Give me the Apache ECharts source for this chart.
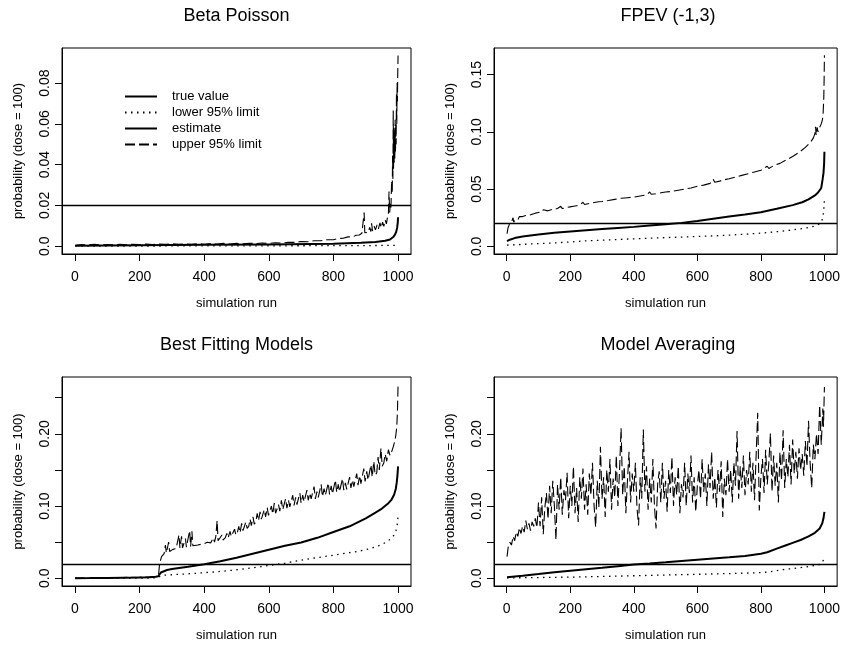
<!DOCTYPE html>
<html><head><meta charset="utf-8">
<script src="https://cdn.jsdelivr.net/npm/echarts@6/dist/echarts.min.js"></script>
<style>html,body{margin:0;padding:0;background:#fff}#c{width:843px;height:648px}</style>
</head><body><div id="c"></div>
<script>
const panelTitles = ['Beta Poisson', 'FPEV (-1,3)', 'Best Fitting Models', 'Model Averaging'];
const seriesNames = ['true value', 'lower 95% limit', 'estimate', 'upper 95% limit'];
const trueValue = 0.02;
const xTicks = [0, 200, 400, 600, 800, 1000];
const bpYTicks = [0, 0.02, 0.04, 0.06, 0.08];
const bpYLabels = ['0.0', '0.02', '0.04', '0.06', '0.08'];
const fpYTicks = [0, 0.05, 0.10, 0.15];
const fpYLabels = ['0.0', '0.05', '0.10', '0.15'];
const bigYTicks = [0, 0.05, 0.10, 0.15, 0.20, 0.25];
const bigYLabelTicks = [0, 0.10, 0.20];
const bigYLabels = ['0.0', '0.10', '0.20'];

// Beta Poisson: [simulation run, probability]
const bpLower = [[1,0.0001],[200,0.0001],[400,0.0002],[600,0.0002],[800,0.0003],[900,0.0003],[950,0.0004],[980,0.0004],[995,0.0005]];
const bpEstimate = [[1,0.0003],[200,0.0005],[400,0.0007],[600,0.0009],[800,0.0012],[885,0.0017],[930,0.0021],[960,0.0027],[975,0.0033],[985,0.0045],[990,0.0056],[994,0.007],[997,0.009],[999,0.0115],[1000,0.0142]];
const bpUpper = [[1,0.0005],[20,0.0008],[40,0.0006],[60,0.0009],[80,0.0006],[100,0.0008],[120,0.0007],[140,0.0010],[160,0.0007],[180,0.0010],[200,0.0008],[220,0.0011],[240,0.0008],[260,0.0011],[280,0.0009],[300,0.0012],[320,0.0009],[340,0.0012],[360,0.0010],[380,0.0013],[400,0.0010],[420,0.0013],[440,0.0011],[460,0.0014],[480,0.0011],[500,0.0014],[520,0.0012],[540,0.0015],[560,0.0013],[580,0.0016],[600,0.0014],[620,0.0017],[640,0.0016],[660,0.0019],[680,0.0019],[700,0.0023],[720,0.0022],[740,0.0027],[760,0.0027],[780,0.0032],[800,0.0032],[815,0.0038],[830,0.0039],[845,0.0046],[860,0.0046],[870,0.0054],[880,0.0055],[888,0.0064],[893,0.0062],[895,0.0165],[897,0.0066],[903,0.0075],[908,0.0068],[912,0.0093],[916,0.0072],[918,0.0113],[921,0.0075],[926,0.0098],[930,0.008],[935,0.0105],[939,0.0085],[944,0.0115],[948,0.009],[952,0.0118],[956,0.0098],[960,0.0128],[964,0.011],[967,0.014],[970,0.0155],[972,0.0268],[974,0.0165],[976,0.021],[978,0.019],[980,0.032],[982,0.026],[983,0.0445],[984,0.033],[985,0.0665],[986,0.038],[987,0.058],[988,0.041],[989,0.056],[990,0.043],[991,0.062],[992,0.046],[993,0.06],[994,0.05],[995,0.075],[996,0.06],[997,0.08],[998,0.071],[999,0.085],[1000,0.0935]];

// FPEV (-1,3)
const fpLower = [[1,0.0011],[50,0.0017],[100,0.0024],[150,0.003],[200,0.0038],[250,0.0048],[300,0.0054],[350,0.006],[400,0.0066],[450,0.0071],[500,0.0076],[550,0.0081],[600,0.0086],[650,0.0091],[700,0.0098],[750,0.0106],[800,0.0115],[850,0.0128],[900,0.0143],[950,0.0164],[970,0.0178],[982,0.0192],[990,0.021],[995,0.025],[998,0.032],[1000,0.0405]];
const fpEstimate = [[1,0.0045],[10,0.0058],[25,0.0072],[50,0.0085],[100,0.0103],[150,0.0118],[200,0.013],[250,0.0141],[300,0.0152],[350,0.0161],[400,0.017],[450,0.0181],[500,0.0192],[550,0.0205],[600,0.0222],[650,0.0242],[700,0.026],[750,0.0278],[800,0.0298],[850,0.0328],[900,0.036],[930,0.0385],[950,0.041],[970,0.0445],[980,0.047],[990,0.051],[994,0.058],[997,0.064],[999,0.072],[1000,0.0827]];
const fpUpper = [[1,0.011],[4,0.016],[8,0.019],[12,0.02],[16,0.022],[20,0.025],[22,0.021],[26,0.023],[30,0.024],[35,0.023],[40,0.026],[45,0.025],[50,0.026],[55,0.025],[60,0.027],[70,0.027],[80,0.028],[90,0.029],[100,0.0295],[110,0.03],[115,0.032],[120,0.0305],[130,0.031],[140,0.032],[150,0.0325],[160,0.033],[170,0.035],[175,0.033],[180,0.0335],[190,0.034],[200,0.0345],[210,0.035],[220,0.0355],[230,0.036],[240,0.0385],[245,0.0365],[250,0.037],[260,0.0375],[270,0.038],[280,0.0385],[290,0.039],[300,0.0392],[320,0.04],[340,0.041],[350,0.0415],[360,0.042],[380,0.0425],[400,0.043],[420,0.044],[440,0.045],[450,0.0475],[455,0.0455],[470,0.046],[490,0.047],[500,0.0475],[520,0.048],[540,0.049],[560,0.05],[580,0.051],[600,0.0525],[620,0.0535],[640,0.055],[650,0.0585],[655,0.056],[670,0.057],[690,0.0585],[700,0.059],[720,0.0605],[740,0.062],[760,0.0635],[780,0.065],[800,0.0665],[820,0.07],[825,0.068],[840,0.0705],[860,0.0725],[880,0.0755],[900,0.0785],[920,0.082],[940,0.0865],[955,0.0905],[965,0.0945],[970,0.0985],[972,0.1045],[974,0.097],[977,0.104],[980,0.1],[985,0.104],[990,0.107],[994,0.111],[996,0.117],[998,0.13],[999,0.145],[1000,0.167]];

// Best Fitting Models
const bfLower = [[1,0],[100,0.0001],[200,0.0002],[255,0.0005],[262,0.0025],[270,0.0042],[290,0.0045],[310,0.0052],[330,0.0055],[350,0.0062],[375,0.0068],[400,0.0078],[425,0.0085],[450,0.0095],[475,0.0105],[500,0.0118],[525,0.013],[550,0.0145],[575,0.016],[600,0.0178],[625,0.0192],[650,0.021],[675,0.023],[700,0.025],[725,0.027],[750,0.0285],[775,0.0302],[800,0.032],[825,0.0338],[850,0.0355],[875,0.0372],[900,0.0395],[920,0.042],[940,0.045],[955,0.048],[970,0.052],[980,0.056],[988,0.06],[993,0.065],[997,0.073],[1000,0.086]];
const bfEstimate = [[1,0.0002],[50,0.0003],[100,0.0005],[150,0.0008],[200,0.0011],[230,0.0015],[250,0.002],[258,0.0028],[262,0.005],[266,0.008],[272,0.0100],[285,0.0115],[300,0.0127],[350,0.016],[400,0.0195],[450,0.0235],[500,0.0285],[550,0.034],[600,0.0395],[650,0.045],[700,0.0495],[750,0.056],[800,0.064],[850,0.072],[900,0.083],[930,0.091],[950,0.0965],[970,0.104],[980,0.109],[988,0.116],[993,0.124],[996,0.133],[998,0.142],[1000,0.155]];
const bfUpper = [[1,0.0004],[50,0.0005],[100,0.0008],[150,0.0011],[200,0.0015],[240,0.002],[255,0.003],[259,0.006],[262,0.02],[265,0.025],[268,0.03],[272,0.032],[276,0.034],[280,0.046],[283,0.035],[287,0.037],[290,0.05],[293,0.037],[298,0.038],[303,0.04],[308,0.039],[313,0.041],[318,0.04],[322,0.06],[325,0.042],[330,0.058],[333,0.042],[338,0.043],[342,0.055],[345,0.043],[350,0.044],[355,0.066],[358,0.044],[362,0.065],[365,0.045],[370,0.044],[380,0.046],[390,0.047],[400,0.048],[410,0.05],[420,0.049],[428,0.056],[432,0.05],[436,0.058],[440,0.08],[443,0.052],[448,0.053],[455,0.06],[458,0.053],[465,0.056],[470,0.062],[474,0.056],[480,0.065],[484,0.058],[490,0.06],[494,0.068],[498,0.06],[503,0.064],[507,0.072],[511,0.063],[516,0.076],[520,0.066],[525,0.068],[529,0.078],[533,0.069],[538,0.072],[542,0.082],[546,0.073],[551,0.085],[555,0.075],[560,0.078],[564,0.09],[568,0.08],[573,0.092],[577,0.082],[582,0.083],[586,0.095],[590,0.085],[595,0.098],[599,0.087],[604,0.088],[608,0.1],[612,0.089],[617,0.104],[621,0.09],[626,0.092],[630,0.102],[634,0.093],[639,0.108],[643,0.095],[648,0.096],[652,0.11],[656,0.097],[661,0.108],[665,0.099],[670,0.1],[674,0.115],[678,0.101],[683,0.112],[687,0.102],[692,0.104],[696,0.118],[700,0.104],[705,0.115],[709,0.106],[714,0.108],[718,0.122],[722,0.108],[727,0.118],[731,0.11],[736,0.112],[740,0.127],[744,0.11],[749,0.12],[753,0.112],[758,0.114],[762,0.13],[766,0.113],[771,0.124],[775,0.115],[780,0.116],[784,0.132],[788,0.116],[793,0.128],[797,0.117],[802,0.118],[806,0.136],[810,0.119],[815,0.13],[819,0.12],[824,0.121],[828,0.138],[832,0.122],[837,0.132],[841,0.123],[846,0.124],[850,0.14],[854,0.125],[859,0.136],[863,0.127],[868,0.128],[872,0.145],[876,0.129],[881,0.142],[885,0.131],[890,0.133],[894,0.152],[898,0.134],[903,0.148],[907,0.136],[912,0.138],[916,0.157],[920,0.14],[925,0.162],[929,0.143],[934,0.146],[938,0.168],[942,0.15],[947,0.18],[951,0.155],[956,0.16],[960,0.172],[965,0.162],[970,0.178],[975,0.17],[980,0.175],[985,0.182],[990,0.19],[993,0.198],[996,0.21],[998,0.23],[1000,0.268]];

// Model Averaging
const maLower = [[1,0.0005],[100,0.001],[200,0.0016],[300,0.0025],[400,0.0035],[500,0.0045],[600,0.0055],[700,0.0065],[800,0.0078],[830,0.009],[850,0.0105],[870,0.012],[900,0.0135],[930,0.015],[960,0.017],[980,0.0185],[990,0.02],[995,0.023],[1000,0.031]];
const maEstimate = [[1,0.0014],[50,0.0035],[100,0.0058],[150,0.0082],[200,0.0105],[250,0.0125],[300,0.0145],[350,0.0168],[400,0.019],[450,0.0205],[500,0.0222],[550,0.024],[600,0.0258],[650,0.0275],[700,0.0292],[750,0.031],[800,0.034],[820,0.036],[850,0.041],[875,0.045],[900,0.049],[925,0.053],[950,0.058],[970,0.063],[985,0.069],[993,0.076],[997,0.083],[1000,0.092]];
const maUpper = [[1,0.03],[5,0.044],[10,0.05],[15,0.046],[20,0.058],[25,0.052],[30,0.064],[35,0.058],[40,0.07],[45,0.062],[50,0.072],[55,0.064],[60,0.08],[65,0.068],[70,0.076],[75,0.066],[80,0.078],[85,0.072],[90,0.083],[95,0.07],
[100,0.105],[105,0.072],[110,0.112],[115,0.061],[120,0.098],[125,0.118],[130,0.082],[135,0.128],[140,0.09],[145,0.135],[150,0.1],[155,0.053],[160,0.13],[165,0.095],[170,0.14],[175,0.088],[180,0.122],[185,0.108],[190,0.146],[195,0.083],
[200,0.128],[205,0.1],[210,0.155],[215,0.09],[220,0.125],[225,0.078],[230,0.14],[235,0.11],[240,0.152],[245,0.095],[250,0.13],[255,0.088],[260,0.145],[265,0.115],[270,0.16],[275,0.1],[280,0.071],[285,0.135],[290,0.098],[295,0.182],
[300,0.11],[305,0.14],[310,0.085],[315,0.15],[320,0.12],[325,0.165],[330,0.095],[335,0.138],[340,0.112],[345,0.17],[350,0.1],[355,0.148],[360,0.208],[365,0.115],[370,0.155],[375,0.09],[380,0.135],[385,0.175],[390,0.105],[395,0.145],
[400,0.12],[405,0.16],[410,0.098],[415,0.073],[420,0.14],[425,0.11],[430,0.206],[435,0.12],[440,0.155],[445,0.095],[450,0.138],[455,0.105],[460,0.165],[465,0.1],[470,0.069],[475,0.13],[480,0.148],[485,0.105],[490,0.16],[495,0.11],
[500,0.135],[505,0.092],[510,0.15],[515,0.118],[520,0.168],[525,0.1],[530,0.14],[535,0.115],[540,0.155],[545,0.09],[550,0.13],[555,0.112],[560,0.16],[565,0.1],[570,0.145],[575,0.118],[580,0.17],[585,0.105],[590,0.14],[595,0.092],
[600,0.128],[605,0.15],[610,0.11],[615,0.165],[620,0.12],[625,0.145],[630,0.1],[635,0.158],[640,0.125],[645,0.175],[650,0.11],[655,0.14],[660,0.098],[665,0.15],[670,0.12],[675,0.162],[680,0.085],[685,0.138],[690,0.115],[695,0.165],
[700,0.12],[705,0.15],[710,0.105],[715,0.16],[720,0.128],[725,0.204],[730,0.11],[735,0.155],[740,0.125],[745,0.17],[750,0.115],[755,0.15],[760,0.13],[765,0.175],[770,0.12],[775,0.16],[780,0.108],[785,0.17],[790,0.229],[795,0.094],
[800,0.14],[805,0.165],[810,0.118],[815,0.178],[820,0.13],[825,0.16],[830,0.201],[835,0.12],[840,0.17],[845,0.128],[850,0.16],[855,0.105],[860,0.175],[865,0.135],[870,0.205],[875,0.125],[880,0.165],[885,0.14],[890,0.185],[895,0.13],
[900,0.192],[905,0.145],[910,0.175],[915,0.138],[920,0.18],[925,0.15],[930,0.172],[935,0.142],[940,0.19],[945,0.155],[950,0.218],[955,0.16],[960,0.125],[965,0.185],[970,0.165],[975,0.2],[980,0.172],[985,0.24],[990,0.185],[995,0.235],[997,0.21],[1000,0.265]];

const FONT = "'Liberation Sans', Arial, Helvetica, sans-serif";
const grids = [
  {left: 62, top: 48, width: 349, height: 206},
  {left: 494, top: 48, width: 348, height: 206},
  {left: 62, top: 377, width: 349, height: 209},
  {left: 494, top: 377, width: 348, height: 209}
];
const yRanges = [[-0.0038, 0.0972], [-0.0067, 0.1733], [-0.0107, 0.2787], [-0.0107, 0.2787]];
const yTickSets = [bpYTicks, fpYTicks, bigYTicks, bigYTicks];
const yLabelSets = [bpYTicks, fpYTicks, bigYLabelTicks, bigYLabelTicks];
const yLabelTexts = [bpYLabels, fpYLabels, bigYLabels, bigYLabels];
const panelData = [
  [bpLower, bpEstimate, bpUpper],
  [fpLower, fpEstimate, fpUpper],
  [bfLower, bfEstimate, bfUpper],
  [maLower, maEstimate, maUpper]
];

function labelFor(i, v) {
  const ticks = yLabelSets[i];
  let best = 0;
  for (let k = 1; k < ticks.length; k++) if (Math.abs(ticks[k] - v) < Math.abs(ticks[best] - v)) best = k;
  return yLabelTexts[i][best];
}

const series = [];
panelData.forEach((d, i) => {
  series.push({
    name: seriesNames[0], type: 'line', xAxisIndex: i, yAxisIndex: i, data: [],
    symbol: 'none', silent: true, itemStyle: {color: '#000'},
    lineStyle: {color: '#000', width: 1.3, type: 'solid'}
  });
  series.push({
    name: seriesNames[1], type: 'line', xAxisIndex: i, yAxisIndex: i, data: d[0],
    symbol: 'none', showSymbol: false, silent: true, itemStyle: {color: '#000'},
    lineStyle: {color: '#000', width: 1.3, type: [1.5, 4.5]}
  });
  series.push({
    name: seriesNames[2], type: 'line', xAxisIndex: i, yAxisIndex: i, data: d[1],
    symbol: 'none', showSymbol: false, silent: true, itemStyle: {color: '#000'},
    lineStyle: {color: '#000', width: 2, type: 'solid'},
    markLine: {
      silent: true, symbol: ['none', 'none'], animation: false,
      label: {show: false},
      lineStyle: {color: '#000', width: 1.3, type: 'solid'},
      data: [{yAxis: trueValue}]
    }
  });
  series.push({
    name: seriesNames[3], type: 'line', xAxisIndex: i, yAxisIndex: i, data: d[2],
    symbol: 'none', showSymbol: false, silent: true, itemStyle: {color: '#000'},
    lineStyle: {color: '#000', width: 1.1, type: [10, 4]}
  });
});

const option = {
  animation: false,
  backgroundColor: '#fff',
  textStyle: {fontFamily: FONT, color: '#000'},
  title: panelTitles.map((t, i) => ({
    text: t, left: grids[i].left + grids[i].width / 2, top: i < 2 ? 7 : 336,
    textAlign: 'center', padding: 0,
    textStyle: {fontSize: 18, fontWeight: 'normal', color: '#000', fontFamily: FONT}
  })),
  legend: {
    show: true, orient: 'vertical', left: 124, top: 90, itemWidth: 32, itemHeight: 12, itemGap: 3,
    selectedMode: false, data: seriesNames, padding: 0,
    itemStyle: {color: 'rgba(0,0,0,0)', borderColor: 'rgba(0,0,0,0)', borderWidth: 0},
    textStyle: {fontSize: 13, color: '#000', fontFamily: FONT, padding: [0, 0, 0, 10]}
  },
  grid: grids.map(g => Object.assign({}, g, {show: true, borderColor: '#000', borderWidth: 1, containLabel: false})),
  xAxis: grids.map((g, i) => ({
    gridIndex: i, type: 'value', min: -40, max: 1040,
    axisLine: {show: true, onZero: false, lineStyle: {color: '#000', width: 1}},
    axisTick: {show: true, length: 7, customValues: xTicks, lineStyle: {color: '#000'}},
    axisLabel: {customValues: xTicks, color: '#000', fontSize: 14, margin: 16, fontFamily: FONT,
      formatter: v => String(v)},
    splitLine: {show: false},
    name: 'simulation run', nameLocation: 'middle', nameGap: 43,
    nameTextStyle: {fontSize: 13, color: '#000', fontFamily: FONT}
  })),
  yAxis: grids.map((g, i) => ({
    gridIndex: i, type: 'value', min: yRanges[i][0], max: yRanges[i][1],
    axisLine: {show: true, onZero: false, lineStyle: {color: '#000', width: 1}},
    axisTick: {show: true, length: 7, customValues: yTickSets[i], lineStyle: {color: '#000'}},
    axisLabel: {customValues: yLabelSets[i], rotate: 90, color: '#000', fontSize: 14, margin: 10, fontFamily: FONT,
      formatter: v => labelFor(i, v)},
    splitLine: {show: false},
    name: 'probability (dose = 100)', nameLocation: 'middle', nameGap: 37,
    nameTextStyle: {fontSize: 13, color: '#000', fontFamily: FONT}
  })),
  series: series
};

const chart = echarts.init(document.getElementById('c'));
chart.setOption(option);
</script>
</body></html>
